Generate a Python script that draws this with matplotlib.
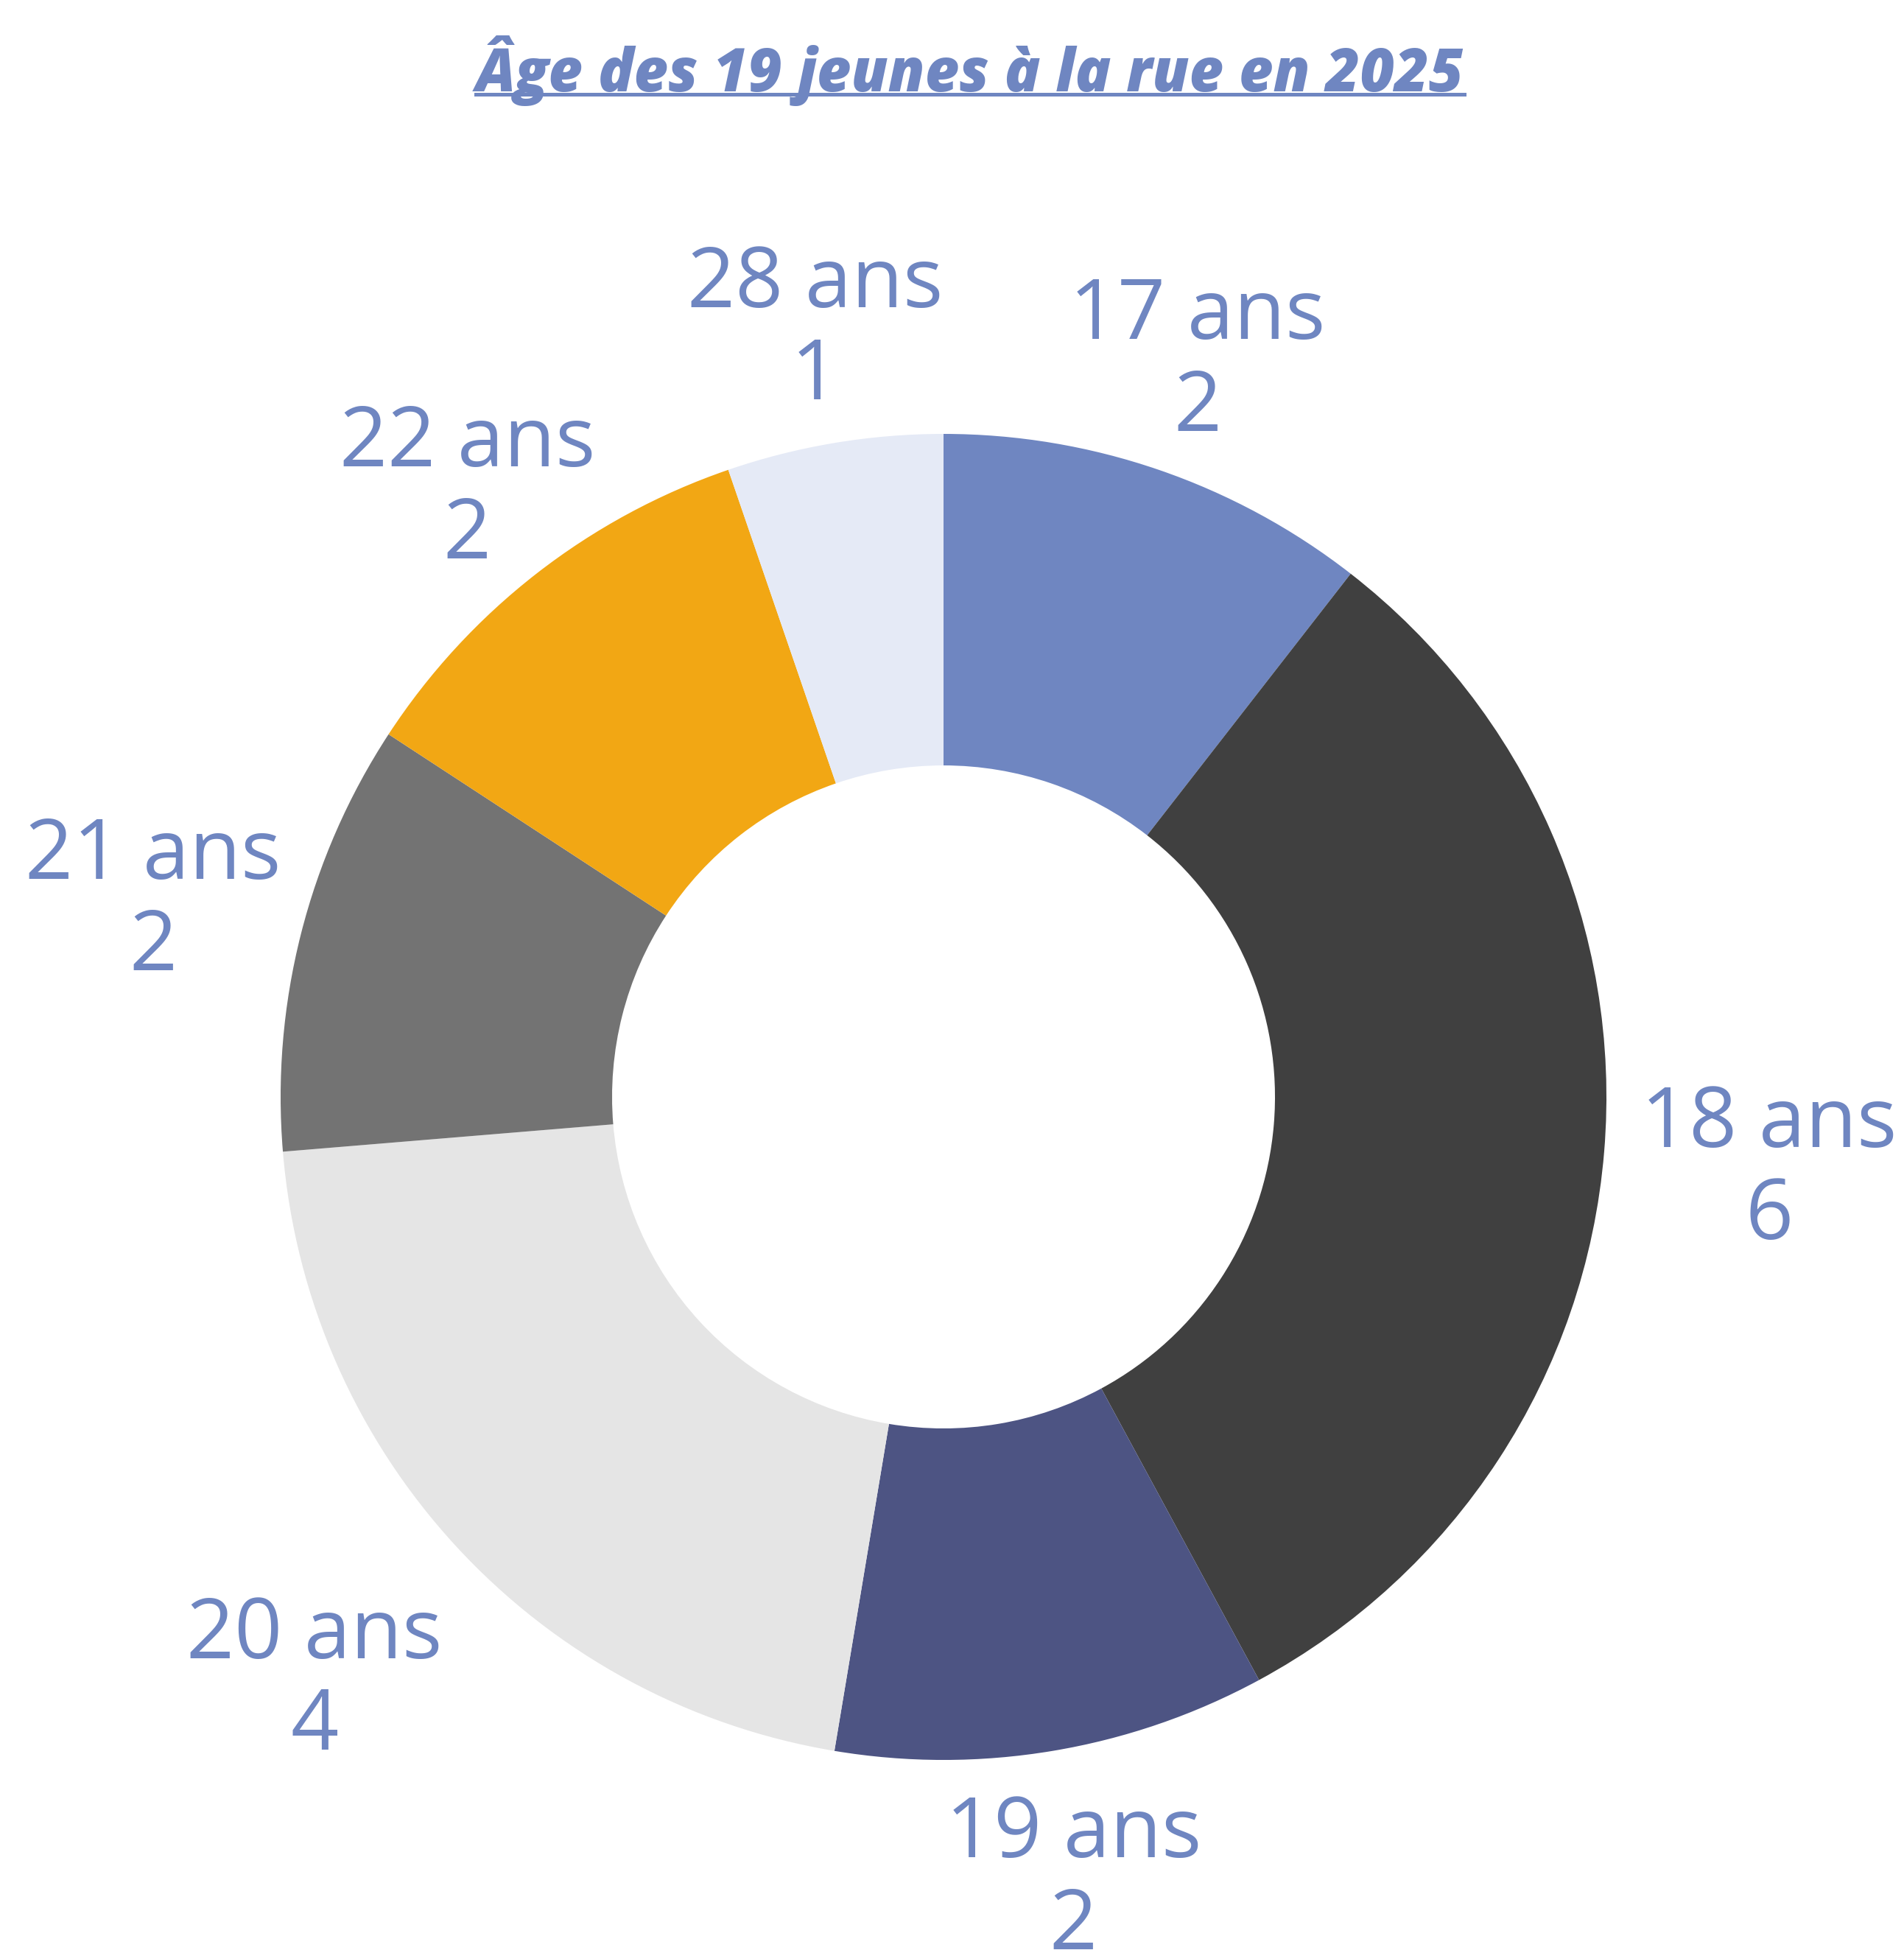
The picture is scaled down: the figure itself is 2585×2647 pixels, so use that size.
import matplotlib
matplotlib.use("Agg")
import matplotlib.pyplot as plt
import numpy as np

# Data
categories = ["17 ans", "18 ans", "19 ans", "20 ans", "21 ans", "22 ans", "28 ans"]
counts = [2, 6, 2, 4, 2, 2, 1]
colors = ["#6F86C1", "#404040", "#4D5483", "#E5E5E5", "#737373", "#F2A714", "#E5EAF6"]
title = "Âge des 19 jeunes à la rue en 2025"

# Label radial distances (style)
label_dist = [1.18, 1.25, 1.19, 1.29, 1.23, 1.17, 1.18]

W, H, DPI = 2585, 2647, 100
fig = plt.figure(figsize=(W / DPI, H / DPI), dpi=DPI)
ax = fig.add_axes([0, 0, 1, 1])

R_px = 900.0
cx, cy_top = 1281.0, 1489.0
cy = H - cy_top

wedges, _ = ax.pie(counts, colors=colors, startangle=90, counterclock=False,
                   radius=1.0, wedgeprops=dict(width=0.5, linewidth=0))

ax.set_aspect("auto")
ax.set_xlim(-cx / R_px, (W - cx) / R_px)
ax.set_ylim(-cy / R_px, (H - cy) / R_px)
ax.axis("off")

label_color = "#6F86C1"
total = sum(counts)
cum = 0
dy_shift = -8 / R_px
for cat, val, d in zip(categories, counts, label_dist):
    mid = (cum + val / 2) / total * 2 * np.pi
    cum += val
    x = d * np.sin(mid)
    y = d * np.cos(mid) + dy_shift
    ax.text(x, y, f"{cat}\n{val}", ha="center", va="center", color=label_color,
            fontsize=82, family="Open Sans", linespacing=1.13, multialignment="center")

t = fig.text(1317 / W, 1 - 96 / H, title, ha="center", va="center",
             color=label_color, fontsize=58, family="Open Sans",
             fontweight=800, style="italic")
fig.canvas.draw()
bb = t.get_window_extent()
uy = H - 128
fig.add_artist(plt.Line2D([bb.x0 / W, bb.x1 / W], [uy / H, uy / H],
                          color=label_color, linewidth=3.6, transform=fig.transFigure))

fig.savefig("out.png", dpi=DPI, facecolor="white")
